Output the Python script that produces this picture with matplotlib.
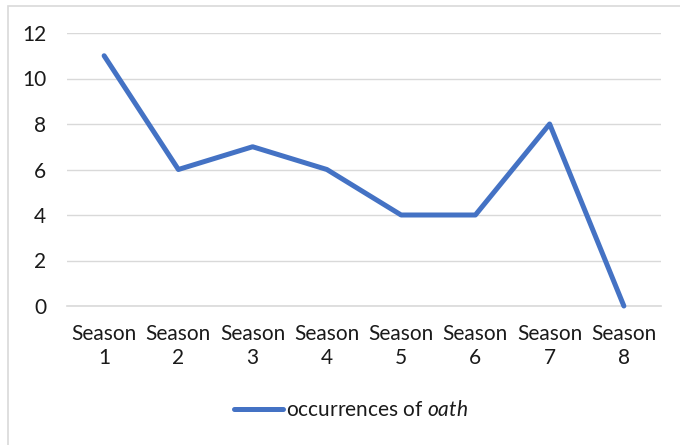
import matplotlib
matplotlib.use("Agg")
import matplotlib.pyplot as plt
from matplotlib.patches import Rectangle

seasons = ["Season\n1", "Season\n2", "Season\n3", "Season\n4",
           "Season\n5", "Season\n6", "Season\n7", "Season\n8"]
occurrences = [11, 6, 7, 6, 4, 4, 8, 0]
yticks = [0, 2, 4, 6, 8, 10, 12]

plt.rcParams['font.family'] = ['Lato', 'DejaVu Sans']
plt.rcParams['mathtext.fontset'] = 'custom'
plt.rcParams['mathtext.rm'] = 'Lato'
plt.rcParams['mathtext.it'] = 'Lato:italic'

W, H = 680, 445
fig = plt.figure(figsize=(W / 100, H / 100), dpi=100)
fig.patch.set_facecolor('white')

# chart border
fig.patches.append(Rectangle((8 / W, -0.05), 1.1, (H - 6) / H + 0.05,
                             transform=fig.transFigure, fill=False,
                             edgecolor='#D9D9D9', linewidth=1.2))

ax = fig.add_axes([67 / W, (H - 306) / H, (661 - 67) / W, (306 - 33) / H])
x = list(range(len(seasons)))
ax.plot(x, occurrences, color='#4472C4', linewidth=3.6,
        solid_capstyle='round', solid_joinstyle='round',
        label='occurrences of $\\it{oath}$', zorder=3, clip_on=False)

ax.set_xlim(-0.5, len(seasons) - 0.5)
ax.set_ylim(0, 12)
ax.set_yticks(yticks)
ax.set_yticklabels([str(v) for v in yticks])
ax.set_xticks(x)
ax.set_xticklabels(seasons, linespacing=1.25)
ax.grid(axis='y', color='#D9D9D9', linewidth=1.0)
ax.set_axisbelow(True)
for s in ['top', 'right', 'left']:
    ax.spines[s].set_visible(False)
ax.spines['bottom'].set_color('#D9D9D9')
ax.spines['bottom'].set_linewidth(1.2)
ax.tick_params(axis='both', length=0, labelsize=15, colors='#1a1a1a')
ax.tick_params(axis='y', pad=15)
ax.tick_params(axis='x', pad=13)

leg = fig.legend(loc='center', bbox_to_anchor=(351 / W, (H - 410) / H),
                 frameon=False, fontsize=15, handlelength=2.35,
                 handletextpad=0.15, borderpad=0)
for t in leg.get_texts():
    t.set_color('#1a1a1a')

fig.savefig('out.png', dpi=100, facecolor='white')
